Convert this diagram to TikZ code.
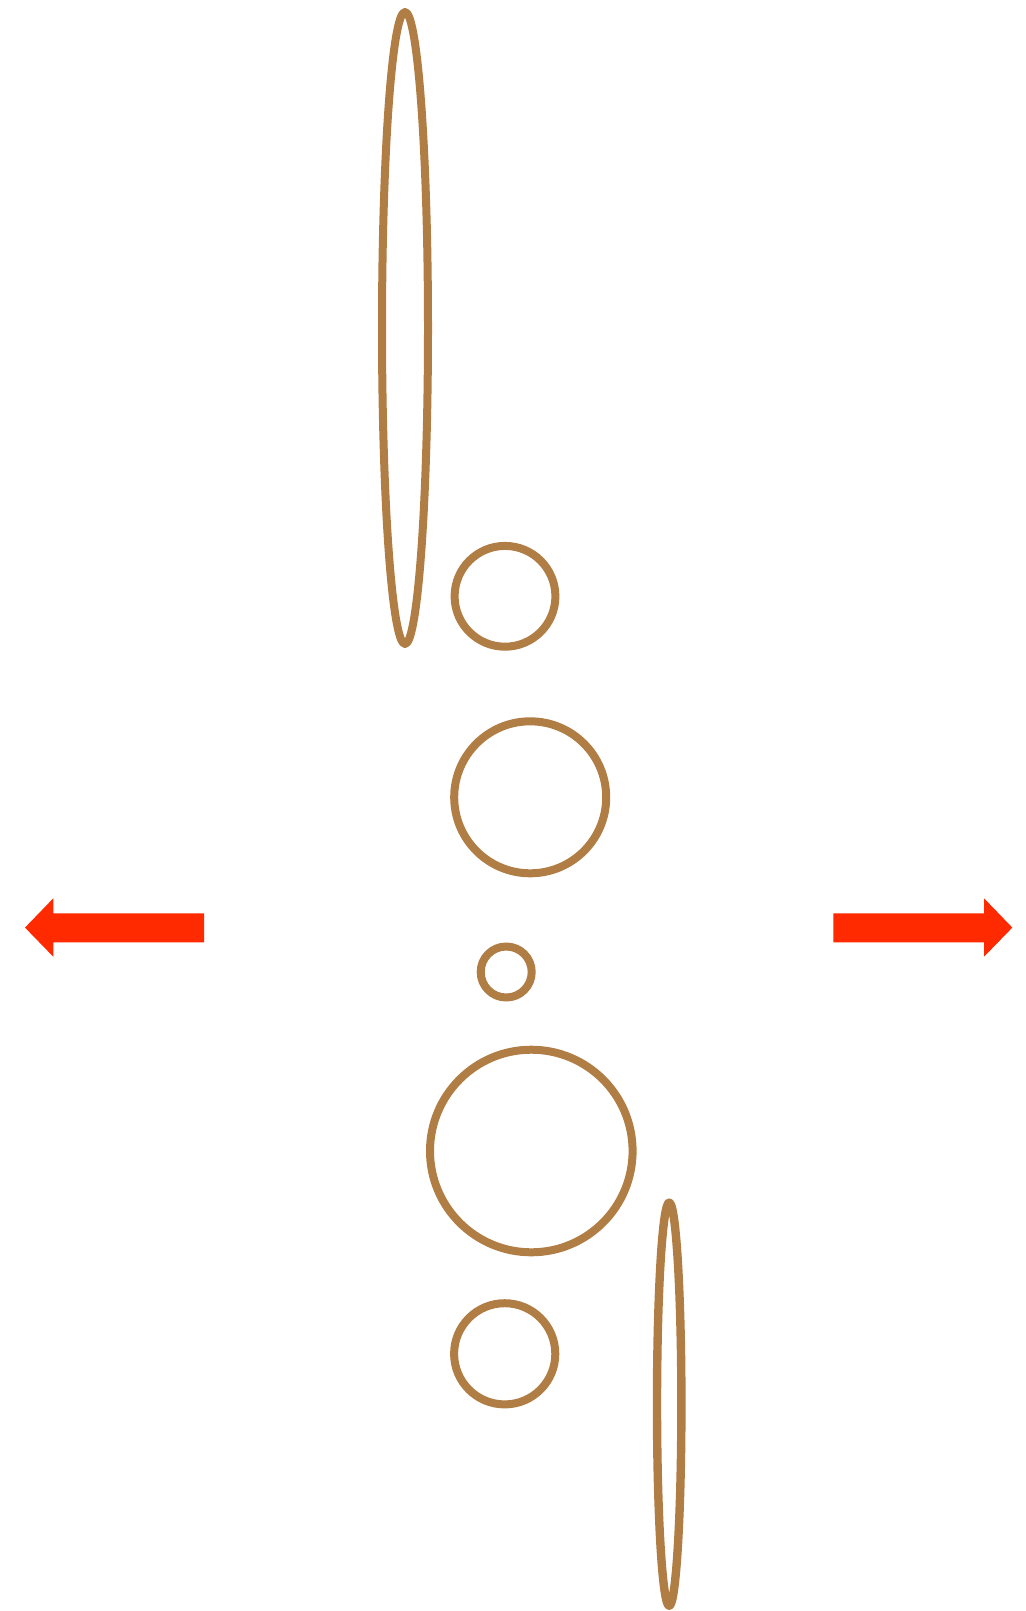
\documentclass[tikz,border=0pt]{standalone}
\definecolor{ring}{RGB}{176,125,68}
\definecolor{arr}{RGB}{255,42,0}
\begin{document}
\begin{tikzpicture}[x=0.5pt,y=-0.5pt,
  ringst/.style={draw=ring,line width=4pt,line join=round},
  arrowst/.style={fill=arr,draw=none}]
\useasboundingbox (0,0) rectangle (1025,1611);
% tall ellipses
\draw[ringst] (405,328) ellipse [x radius=11.5pt, y radius=158pt];
\draw[ringst,line width=4.2pt] (669.2,1404.2) ellipse [x radius=6.1pt, y radius=100.8pt];
% circles
\draw[ringst] (505,596.3) circle [radius=25.2pt];
\draw[ringst] (530.2,797.3) circle [radius=38pt];
\draw[ringst] (506.2,972) circle [radius=12.75pt];
\draw[ringst] (531.3,1151) circle [radius=50.65pt];
\draw[ringst] (504.7,1353.8) circle [radius=25.3pt];
% arrows
\fill[arrowst] (204,913.3) -- (53.3,913.3) -- (53.3,898.3) -- (25,927.6) -- (53.3,956.7) -- (53.3,942.3) -- (204,942.3) -- cycle;
\fill[arrowst] (833.3,913.3) -- (984,913.3) -- (984,898.3) -- (1012.3,927.6) -- (984,956.7) -- (984,942.3) -- (833.3,942.3) -- cycle;
\end{tikzpicture}
\end{document}
